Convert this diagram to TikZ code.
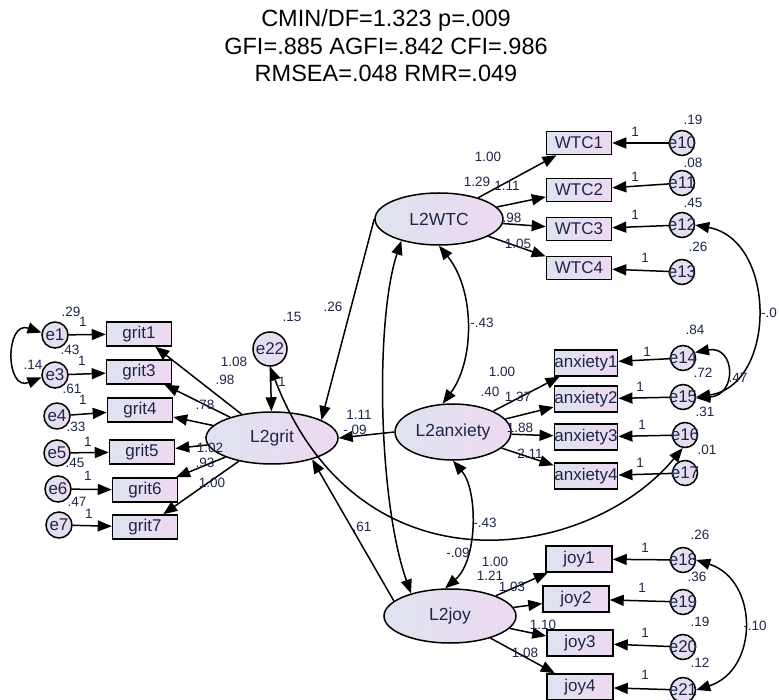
\documentclass[tikz,border=0pt]{standalone}
\usepackage{fontspec}
\setmainfont{Liberation Sans}
\usetikzlibrary{shapes.geometric,arrows.meta}
\definecolor{inkblue}{RGB}{30,38,72}
\definecolor{fillL}{RGB}{222,227,240}
\definecolor{fillR}{RGB}{238,217,241}

\begin{document}
\begin{tikzpicture}[x=1pt,y=-1pt,
    every node/.style={text=inkblue},
    obs/.style={draw,line width=1.5pt,rectangle,minimum width=65pt,minimum height=24pt,inner sep=1pt,
        left color=fillL,right color=fillR,font=\fontsize{17}{17}\selectfont},
    lat/.style={draw,line width=1.5pt,ellipse,inner sep=0pt,left color=fillL,right color=fillR,
        font=\fontsize{17.5}{17.5}\selectfont},
    err/.style={draw,line width=1.5pt,circle,inner sep=0pt,minimum size=25pt,
        left color=fillL,right color=fillR,font=\fontsize{17}{17}\selectfont},
    num/.style={font=\fontsize{13.5}{13.5}\selectfont,inner sep=0pt},
    load/.style={line width=1.5pt,-{Triangle[length=14pt,width=11pt]}},
    corr/.style={line width=1.5pt,{Triangle[length=14pt,width=11pt]}-{Triangle[length=14pt,width=11pt]}}]
    \useasboundingbox (0,0) rectangle (779,700);

    \node[align=center,text=black,font=\fontsize{23.5}{27.5}\selectfont] (fit) at (386,46)
        {CMIN/DF=1.323 p=.009\\GFI=.885 AGFI=.842 CFI=.986\\RMSEA=.048 RMR=.049};

    \node[lat,minimum width=132pt,minimum height=52pt] (L2grit) at (272,438) {L2grit};
    \node[lat,minimum width=128pt,minimum height=52pt] (L2WTC) at (439,219) {L2WTC};
    \node[lat,minimum width=116pt,minimum height=56pt] (L2anxiety) at (453,432) {L2anxiety};
    \node[lat,minimum width=132pt,minimum height=54pt] (L2joy) at (450,616) {L2joy};
    \node[err,minimum size=34pt] (e22) at (270,349) {e22};

    \foreach \n/\ex/\ey/\gx/\gy in {1/55/335/139/334, 3/55/375/139/372, 4/57/416/140/410,
        5/57/453/142/452, 6/58/489/145/490, 7/59/525/145/527}{
        \node[err,minimum size=26pt] (e\n) at (\ex,\ey) {\makebox[0pt]{e\n}};
        \node[obs] (grit\n) at (\gx,\gy) {grit\n};
        \draw[load] (e\n) -- (grit\n);
        \draw[load] (L2grit) -- (grit\n);
    }

    \foreach \n/\e/\ey/\by in {1/10/143/143, 2/11/183/190, 3/12/225/229, 4/13/272/268}{
        \node[obs,minimum height=23pt] (WTC\n) at (579,\by) {WTC\n};
        \node[err] (e\e) at (682,\ey) {\makebox[0pt]{e\e}};
        \draw[load] (e\e) -- (WTC\n);
        \draw[load] (L2WTC) -- (WTC\n);
    }

    \foreach \n/\e/\ex/\ey/\by in {1/14/683/358/363, 2/15/683/397/399, 3/16/685/435/437, 4/17/685/473/476}{
        \node[obs,minimum width=62pt,minimum height=26pt,inner sep=0pt] (anxiety\n) at (586,\by) {anxiety\n};
        \node[err] (e\e) at (\ex,\ey) {\makebox[0pt]{e\e}};
        \draw[load] (e\e) -- (anxiety\n);
        \draw[load] (L2anxiety) -- (anxiety\n);
    }

    \foreach \n/\e/\ey/\bx/\by in {1/18/560/579/559, 2/19/602/576/599, 3/20/647/580/643, 4/21/690/580/687}{
        \node[obs,minimum width=66pt,minimum height=26pt] (joy\n) at (\bx,\by) {joy\n};
        \node[err] (e\e) at (683,\ey) {\makebox[0pt]{e\e}};
        \draw[load] (e\e) -- (joy\n);
        \draw[load] (L2joy) -- (joy\n);
    }

    \draw[load] (e22) -- (L2grit);
    \draw[load] (L2WTC.west) -- (L2grit.20);
    \draw[load] (L2anxiety.west) -- (L2grit.east);
    \draw[load] (L2joy.165) -- (L2grit.-28);

    \draw[corr] (L2WTC.south) .. controls (475,290) and (475,360) .. (L2anxiety.110);
    \draw[corr] (L2WTC.210) .. controls (375,320) and (378,500) .. (L2joy.150);
    \draw[corr] (L2anxiety.south) .. controls (478,490) and (478,560) .. (L2joy.100);
    \draw[corr] (e22.south) .. controls (360,600) and (590,560) .. (e16.-100);
    \draw[corr] (e1.170) .. controls (5,320) and (5,392) .. (e3.190);
    \draw[corr] (e12.east) .. controls (777,240) and (777,385) .. (e15.east);
    \draw[corr] (e14.25) .. controls (735,345) and (738,395) .. (e15.-5);
    \draw[corr] (e18.east) .. controls (759,580) and (759,670) .. (e21.east);

    \foreach \t/\x/\y in {.29/71/312, 1/83/322, .43/70/350, 1/82/361, .14/33/365, .61/72/389,
        1/83/400, .33/76/427, 1/88/442, .45/75/463, 1/88/476, .47/77/502, 1/89/514,
        1.08/234/362, .98/225/380, .78/205/405, 1.02/210/448, .93/205/463, 1.00/212/483,
        .15/292/317, 1/282/382, .26/333/307, 1.11/359/415, -.09/355/430, .61/362/527,
        -.43/482/323, -.09/458/553, -.43/485/523,
        1.00/488/157, 1.29/477/182, 1.11/507/186, .98/512/218, 1.05/518/244,
        1/635/132, 1/635/177, 1/635/215, 1/645/258, .19/693/120, .08/693/163, .45/693/203, .26/698/247,
        1.00/502/372, .40/490/392, 1.37/518/397, 1.88/520/428, 2.11/530/454,
        1/647/352, 1/640/387, 1/642/425, 1/640/463, .84/695/330, .72/703/373, .31/705/412, .01/707/450,
        .47/738/378,
        1.00/495/562, 1.21/490/576, 1.03/512/587, 1.10/543/625, 1.08/525/653,
        1/645/548, 1/642/588, 1/645/633, 1/645/675, .26/700/535, .36/697/577, .19/700/622, .12/700/663,
        -.10/755/626}{
        \node[num] at (\x,\y) {\t};
    }
    \node[num,anchor=west] at (761,313) {-.0};
\end{tikzpicture}
\end{document}
